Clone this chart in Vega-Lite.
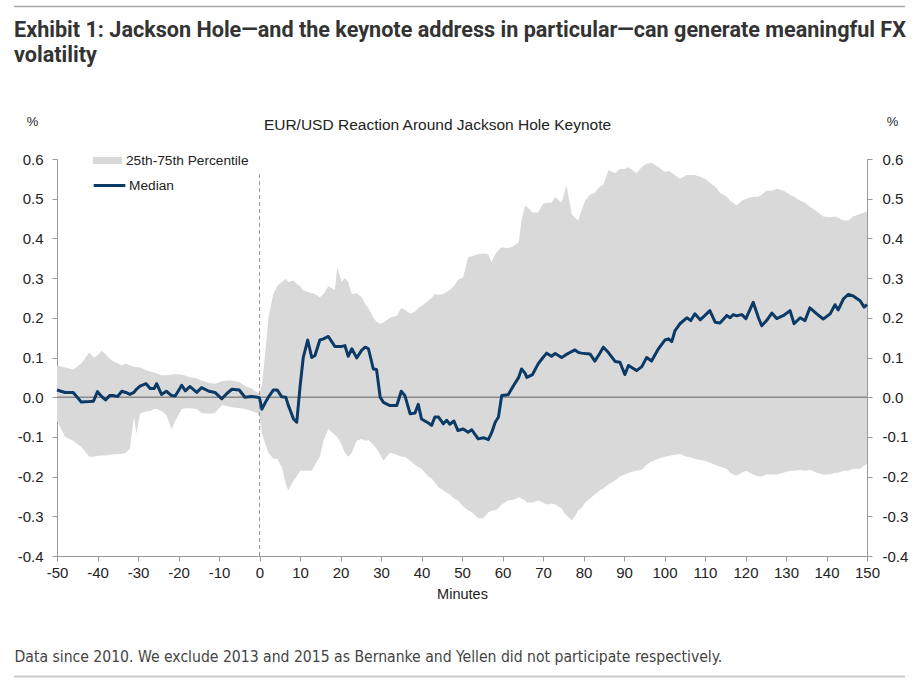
{
  "$schema": "https://vega.github.io/schema/vega-lite/v6.json",
  "width": 810,
  "height": 397,
  "autosize": "none",
  "padding": {"left": 57, "top": 159, "right": 52, "bottom": 125},
  "title": {
    "text": ["Exhibit 1: Jackson Hole—and the keynote address in particular—can generate meaningful FX", "volatility"],
    "anchor": "start",
    "frame": "group",
    "dx": -43,
    "offset": -61,
    "font": "Roboto",
    "fontSize": 21.6,
    "fontWeight": "bold",
    "color": "#333333",
    "lineHeight": 25
  },
  "data": {
    "values": [
      {"minute": -50, "lo": -0.06, "hi": 0.08, "median": 0.018},
      {"minute": -48, "lo": -0.1, "hi": 0.075, "median": 0.012},
      {"minute": -46, "lo": -0.11, "hi": 0.07, "median": 0.012},
      {"minute": -44, "lo": -0.125, "hi": 0.085, "median": -0.012},
      {"minute": -42, "lo": -0.15, "hi": 0.113, "median": -0.011},
      {"minute": -41, "lo": -0.15, "hi": 0.1, "median": -0.01},
      {"minute": -40, "lo": -0.148, "hi": 0.105, "median": 0.014},
      {"minute": -39, "lo": -0.147, "hi": 0.117, "median": 0.002},
      {"minute": -38, "lo": -0.147, "hi": 0.108, "median": -0.007},
      {"minute": -37, "lo": -0.145, "hi": 0.097, "median": 0.004},
      {"minute": -36, "lo": -0.144, "hi": 0.09, "median": 0.004},
      {"minute": -35, "lo": -0.143, "hi": 0.085, "median": 0.002},
      {"minute": -34, "lo": -0.143, "hi": 0.08, "median": 0.015},
      {"minute": -33, "lo": -0.14, "hi": 0.085, "median": 0.012},
      {"minute": -32, "lo": -0.13, "hi": 0.08, "median": 0.007},
      {"minute": -31, "lo": -0.05, "hi": 0.077, "median": 0.012},
      {"minute": -30.4, "lo": -0.092, "hi": 0.076, "median": 0.02},
      {"minute": -29.5, "lo": -0.042, "hi": 0.075, "median": 0.028},
      {"minute": -28, "lo": -0.036, "hi": 0.068, "median": 0.034},
      {"minute": -27, "lo": -0.035, "hi": 0.065, "median": 0.022},
      {"minute": -26, "lo": -0.03, "hi": 0.062, "median": 0.022},
      {"minute": -25.4, "lo": -0.03, "hi": 0.06, "median": 0.034},
      {"minute": -24.2, "lo": -0.035, "hi": 0.055, "median": 0.007},
      {"minute": -23, "lo": -0.045, "hi": 0.055, "median": 0.015},
      {"minute": -21.7, "lo": -0.08, "hi": 0.057, "median": 0.004},
      {"minute": -20.8, "lo": -0.06, "hi": 0.058, "median": 0.003},
      {"minute": -19.2, "lo": -0.03, "hi": 0.057, "median": 0.03},
      {"minute": -18.3, "lo": -0.028, "hi": 0.054, "median": 0.016},
      {"minute": -17.2, "lo": -0.028, "hi": 0.05, "median": 0.027},
      {"minute": -15.5, "lo": -0.03, "hi": 0.048, "median": 0.012},
      {"minute": -14.3, "lo": -0.04, "hi": 0.042, "median": 0.024},
      {"minute": -12.5, "lo": -0.042, "hi": 0.036, "median": 0.015},
      {"minute": -11, "lo": -0.04, "hi": 0.034, "median": 0.012},
      {"minute": -9.3, "lo": -0.02, "hi": 0.04, "median": -0.004},
      {"minute": -8, "lo": -0.022, "hi": 0.042, "median": 0.01},
      {"minute": -6.8, "lo": -0.025, "hi": 0.042, "median": 0.02},
      {"minute": -5, "lo": -0.028, "hi": 0.038, "median": 0.018},
      {"minute": -3.6, "lo": -0.03, "hi": 0.028, "median": 0.0},
      {"minute": -2, "lo": -0.035, "hi": 0.022, "median": 0.002},
      {"minute": -0.5, "lo": -0.04, "hi": 0.012, "median": 0.0},
      {"minute": 0, "lo": -0.05, "hi": 0.01, "median": -0.002},
      {"minute": 0.6, "lo": -0.09, "hi": 0.03, "median": -0.03},
      {"minute": 1.5, "lo": -0.12, "hi": 0.12, "median": -0.012},
      {"minute": 2.2, "lo": -0.14, "hi": 0.2, "median": 0.0},
      {"minute": 3.4, "lo": -0.155, "hi": 0.26, "median": 0.018},
      {"minute": 4.4, "lo": -0.155, "hi": 0.28, "median": 0.018},
      {"minute": 5.5, "lo": -0.176, "hi": 0.29, "median": 0.001},
      {"minute": 6.5, "lo": -0.22, "hi": 0.298, "median": 0.0},
      {"minute": 7.1, "lo": -0.235, "hi": 0.29, "median": -0.02},
      {"minute": 8.4, "lo": -0.21, "hi": 0.294, "median": -0.055},
      {"minute": 9.2, "lo": -0.2, "hi": 0.285, "median": -0.063},
      {"minute": 10.0, "lo": -0.185, "hi": 0.28, "median": 0.025},
      {"minute": 10.8, "lo": -0.185, "hi": 0.269, "median": 0.1},
      {"minute": 11.9, "lo": -0.185, "hi": 0.265, "median": 0.144},
      {"minute": 12.9, "lo": -0.185, "hi": 0.262, "median": 0.1},
      {"minute": 13.7, "lo": -0.17, "hi": 0.26, "median": 0.105},
      {"minute": 14.9, "lo": -0.15, "hi": 0.252, "median": 0.144},
      {"minute": 15.8, "lo": -0.11, "hi": 0.26, "median": 0.147},
      {"minute": 17.0, "lo": -0.08, "hi": 0.28, "median": 0.153},
      {"minute": 18.6, "lo": -0.095, "hi": 0.27, "median": 0.128},
      {"minute": 19.2, "lo": -0.1, "hi": 0.327, "median": 0.128},
      {"minute": 20.3, "lo": -0.12, "hi": 0.29, "median": 0.128},
      {"minute": 21.1, "lo": -0.14, "hi": 0.3, "median": 0.13},
      {"minute": 21.9, "lo": -0.15, "hi": 0.29, "median": 0.103},
      {"minute": 22.8, "lo": -0.14, "hi": 0.26, "median": 0.122},
      {"minute": 24.0, "lo": -0.11, "hi": 0.262, "median": 0.099},
      {"minute": 25.2, "lo": -0.105, "hi": 0.252, "median": 0.118},
      {"minute": 26.1, "lo": -0.11, "hi": 0.235, "median": 0.126},
      {"minute": 26.9, "lo": -0.108, "hi": 0.225, "median": 0.122},
      {"minute": 28.1, "lo": -0.12, "hi": 0.2, "median": 0.071},
      {"minute": 28.9, "lo": -0.13, "hi": 0.19, "median": 0.07},
      {"minute": 29.8, "lo": -0.145, "hi": 0.185, "median": 0.0},
      {"minute": 30.6, "lo": -0.16, "hi": 0.188, "median": -0.013},
      {"minute": 32.2, "lo": -0.14, "hi": 0.2, "median": -0.021},
      {"minute": 33.9, "lo": -0.145, "hi": 0.205, "median": -0.021},
      {"minute": 35.0, "lo": -0.15, "hi": 0.225, "median": 0.015},
      {"minute": 35.9, "lo": -0.15, "hi": 0.22, "median": 0.004},
      {"minute": 37.2, "lo": -0.16, "hi": 0.21, "median": -0.042},
      {"minute": 38.4, "lo": -0.17, "hi": 0.215, "median": -0.04},
      {"minute": 39.2, "lo": -0.176, "hi": 0.225, "median": -0.018},
      {"minute": 40.0, "lo": -0.18, "hi": 0.23, "median": -0.055},
      {"minute": 41.7, "lo": -0.2, "hi": 0.243, "median": -0.065},
      {"minute": 42.5, "lo": -0.205, "hi": 0.25, "median": -0.071},
      {"minute": 43.3, "lo": -0.215, "hi": 0.26, "median": -0.05},
      {"minute": 44.2, "lo": -0.227, "hi": 0.258, "median": -0.05},
      {"minute": 45.4, "lo": -0.235, "hi": 0.26, "median": -0.067},
      {"minute": 46.2, "lo": -0.24, "hi": 0.265, "median": -0.058},
      {"minute": 47.0, "lo": -0.245, "hi": 0.27, "median": -0.068},
      {"minute": 48.0, "lo": -0.255, "hi": 0.28, "median": -0.06},
      {"minute": 49.0, "lo": -0.26, "hi": 0.295, "median": -0.084},
      {"minute": 50.3, "lo": -0.275, "hi": 0.302, "median": -0.08},
      {"minute": 51.5, "lo": -0.285, "hi": 0.353, "median": -0.088},
      {"minute": 52.4, "lo": -0.29, "hi": 0.355, "median": -0.082},
      {"minute": 54.0, "lo": -0.305, "hi": 0.36, "median": -0.105},
      {"minute": 55.3, "lo": -0.305, "hi": 0.362, "median": -0.102},
      {"minute": 56.5, "lo": -0.29, "hi": 0.36, "median": -0.107},
      {"minute": 57.3, "lo": -0.286, "hi": 0.34, "median": -0.09},
      {"minute": 58.2, "lo": -0.285, "hi": 0.36, "median": -0.063},
      {"minute": 59.0, "lo": -0.28, "hi": 0.37, "median": -0.05},
      {"minute": 59.8, "lo": -0.27, "hi": 0.378, "median": 0.004},
      {"minute": 61.4, "lo": -0.26, "hi": 0.375, "median": 0.006},
      {"minute": 62.7, "lo": -0.258, "hi": 0.38, "median": 0.029},
      {"minute": 64.0, "lo": -0.252, "hi": 0.39, "median": 0.05},
      {"minute": 64.7, "lo": -0.255, "hi": 0.445, "median": 0.071},
      {"minute": 65.6, "lo": -0.26, "hi": 0.483, "median": 0.06},
      {"minute": 66.0, "lo": -0.265, "hi": 0.48, "median": 0.05},
      {"minute": 67.4, "lo": -0.265, "hi": 0.465, "median": 0.057},
      {"minute": 68.8, "lo": -0.26, "hi": 0.465, "median": 0.084},
      {"minute": 70.0, "lo": -0.265, "hi": 0.487, "median": 0.1},
      {"minute": 70.9, "lo": -0.27, "hi": 0.49, "median": 0.111},
      {"minute": 72.1, "lo": -0.268, "hi": 0.49, "median": 0.103},
      {"minute": 73.0, "lo": -0.27, "hi": 0.504, "median": 0.11},
      {"minute": 74.6, "lo": -0.28, "hi": 0.49, "median": 0.1},
      {"minute": 75.4, "lo": -0.294, "hi": 0.52, "median": 0.105},
      {"minute": 75.8, "lo": -0.298, "hi": 0.533, "median": 0.108},
      {"minute": 77.1, "lo": -0.31, "hi": 0.46, "median": 0.115},
      {"minute": 77.9, "lo": -0.3, "hi": 0.452, "median": 0.119},
      {"minute": 78.7, "lo": -0.285, "hi": 0.445, "median": 0.113},
      {"minute": 79.5, "lo": -0.28, "hi": 0.47, "median": 0.111},
      {"minute": 80.4, "lo": -0.265, "hi": 0.495, "median": 0.11},
      {"minute": 81.6, "lo": -0.255, "hi": 0.51, "median": 0.109},
      {"minute": 82.8, "lo": -0.245, "hi": 0.515, "median": 0.091},
      {"minute": 84.0, "lo": -0.235, "hi": 0.53, "median": 0.11},
      {"minute": 84.9, "lo": -0.23, "hi": 0.535, "median": 0.126},
      {"minute": 86.1, "lo": -0.22, "hi": 0.571, "median": 0.113},
      {"minute": 87.8, "lo": -0.21, "hi": 0.565, "median": 0.09},
      {"minute": 89.0, "lo": -0.2, "hi": 0.575, "median": 0.088},
      {"minute": 90.2, "lo": -0.195, "hi": 0.575, "median": 0.057},
      {"minute": 91.1, "lo": -0.19, "hi": 0.579, "median": 0.08},
      {"minute": 93.1, "lo": -0.185, "hi": 0.565, "median": 0.067},
      {"minute": 94.4, "lo": -0.183, "hi": 0.58, "median": 0.077},
      {"minute": 95.6, "lo": -0.17, "hi": 0.588, "median": 0.1},
      {"minute": 96.8, "lo": -0.162, "hi": 0.59, "median": 0.091},
      {"minute": 98.5, "lo": -0.155, "hi": 0.58, "median": 0.122},
      {"minute": 100.1, "lo": -0.15, "hi": 0.567, "median": 0.144},
      {"minute": 101.0, "lo": -0.148, "hi": 0.57, "median": 0.147},
      {"minute": 101.8, "lo": -0.146, "hi": 0.565, "median": 0.14},
      {"minute": 102.6, "lo": -0.145, "hi": 0.56, "median": 0.168},
      {"minute": 103.8, "lo": -0.143, "hi": 0.55, "median": 0.185},
      {"minute": 105.5, "lo": -0.15, "hi": 0.56, "median": 0.2},
      {"minute": 106.5, "lo": -0.152, "hi": 0.56, "median": 0.193},
      {"minute": 107.5, "lo": -0.155, "hi": 0.56, "median": 0.21},
      {"minute": 108.8, "lo": -0.158, "hi": 0.555, "median": 0.195},
      {"minute": 110.0, "lo": -0.16, "hi": 0.55, "median": 0.206},
      {"minute": 111.2, "lo": -0.165, "hi": 0.54, "median": 0.218},
      {"minute": 112.5, "lo": -0.17, "hi": 0.53, "median": 0.189},
      {"minute": 113.7, "lo": -0.175, "hi": 0.515, "median": 0.187},
      {"minute": 115.4, "lo": -0.18, "hi": 0.505, "median": 0.206},
      {"minute": 116.2, "lo": -0.19, "hi": 0.495, "median": 0.2},
      {"minute": 117.0, "lo": -0.195, "hi": 0.49, "median": 0.208},
      {"minute": 117.8, "lo": -0.197, "hi": 0.483, "median": 0.205},
      {"minute": 119.1, "lo": -0.19, "hi": 0.495, "median": 0.208},
      {"minute": 120.1, "lo": -0.185, "hi": 0.5, "median": 0.198},
      {"minute": 121.9, "lo": -0.195, "hi": 0.505, "median": 0.239},
      {"minute": 123.2, "lo": -0.2, "hi": 0.505, "median": 0.2},
      {"minute": 124.0, "lo": -0.2, "hi": 0.51, "median": 0.18},
      {"minute": 125.2, "lo": -0.195, "hi": 0.52, "median": 0.193},
      {"minute": 126.5, "lo": -0.195, "hi": 0.52, "median": 0.212},
      {"minute": 127.7, "lo": -0.195, "hi": 0.525, "median": 0.198},
      {"minute": 129.4, "lo": -0.19, "hi": 0.52, "median": 0.206},
      {"minute": 131.0, "lo": -0.185, "hi": 0.51, "median": 0.218},
      {"minute": 132.0, "lo": -0.185, "hi": 0.505, "median": 0.185},
      {"minute": 133.5, "lo": -0.183, "hi": 0.495, "median": 0.2},
      {"minute": 134.7, "lo": -0.185, "hi": 0.49, "median": 0.193},
      {"minute": 135.9, "lo": -0.183, "hi": 0.48, "median": 0.225},
      {"minute": 137.6, "lo": -0.19, "hi": 0.468, "median": 0.21},
      {"minute": 139.2, "lo": -0.195, "hi": 0.455, "median": 0.197},
      {"minute": 140.9, "lo": -0.195, "hi": 0.453, "median": 0.21},
      {"minute": 142.1, "lo": -0.19, "hi": 0.455, "median": 0.233},
      {"minute": 142.9, "lo": -0.19, "hi": 0.452, "median": 0.22},
      {"minute": 144.2, "lo": -0.185, "hi": 0.445, "median": 0.248},
      {"minute": 145.4, "lo": -0.185, "hi": 0.445, "median": 0.259},
      {"minute": 146.6, "lo": -0.18, "hi": 0.455, "median": 0.255},
      {"minute": 148.3, "lo": -0.18, "hi": 0.462, "median": 0.243},
      {"minute": 149.3, "lo": -0.172, "hi": 0.465, "median": 0.227},
      {"minute": 150.0, "lo": -0.168, "hi": 0.468, "median": 0.233}
    ]
  },
  "resolve": {"axis": {"x": "independent", "y": "independent"}},
  "layer": [
    {
      "mark": {"type": "area", "interpolate": "linear"},
      "encoding": {
        "x": {
          "field": "minute",
          "type": "quantitative",
          "scale": {"domain": [-50, 150], "nice": false, "zero": false},
          "axis": {
            "orient": "bottom",
            "values": [-50, -40, -30, -20, -10, 0, 10, 20, 30, 40, 50, 60, 70, 80, 90, 100, 110, 120, 130, 140, 150],
            "labelExpr": "replace(datum.label, '−', '-')",
            "labelFlush": false,
            "labelOverlap": false,
            "title": "Minutes",
            "titleY": 38,
            "titleBaseline": "middle",
            "titleFontSize": 14.5,
            "labelPadding": 4
          }
        },
        "y": {
          "field": "lo",
          "type": "quantitative",
          "scale": {"domain": [-0.4, 0.6], "nice": false, "zero": false},
          "axis": {
            "orient": "left",
            "values": [-0.4, -0.3, -0.2, -0.1, 0, 0.1, 0.2, 0.3, 0.4, 0.5, 0.6],
            "format": ".1f",
            "labelExpr": "replace(datum.label, '−', '-')",
            "labelFlush": false,
            "labelOverlap": false,
            "labelPadding": 9,
            "title": "%",
            "titleAngle": 0,
            "titleX": -25,
            "titleY": -38,
            "titleAlign": "center",
            "titleBaseline": "middle"
          }
        },
        "y2": {"field": "hi"},
        "fill": {
          "datum": "25th-75th Percentile",
          "scale": {"range": ["#d9d9d9"]},
          "legend": {
            "orient": "none",
            "legendX": 36,
            "legendY": -13,
            "title": null,
            "symbolType": "M-1,-0.25H1V0.25H-1Z",
            "symbolSize": 841,
            "symbolStrokeWidth": 0,
            "symbolOpacity": 1,
            "labelOffset": 4
          }
        }
      }
    },
    {
      "data": {"values": [{}]},
      "mark": {"type": "rule", "color": "#8a8a8a", "strokeWidth": 1.5},
      "encoding": {
        "y": {"datum": 0, "type": "quantitative", "scale": {"domain": [-0.4, 0.6], "nice": false, "zero": false}, "axis": null}
      }
    },
    {
      "data": {"values": [{}]},
      "mark": {"type": "rule", "color": "#9a9a9a", "strokeWidth": 1, "strokeDash": [4, 3]},
      "encoding": {
        "x": {
          "datum": 0,
          "type": "quantitative",
          "scale": {"domain": [-50, 150], "nice": false, "zero": false},
          "axis": {
            "orient": "bottom",
            "labels": false,
            "ticks": false,
            "domain": false,
            "grid": false,
            "title": "Data since 2010. We exclude 2013 and 2015 as Bernanke and Yellen did not participate respectively.",
            "titleX": -43,
            "titleY": 100,
            "titleAlign": "left",
            "titleBaseline": "middle",
            "titleFont": "Liberation Sans Narrow, DejaVu Sans Condensed, Roboto",
            "titleFontSize": 15.6,
            "titleFontWeight": "normal",
            "titleColor": "#444444"
          }
        },
        "y": {"datum": -0.4, "type": "quantitative", "scale": {"domain": [-0.4, 0.6], "nice": false, "zero": false}, "axis": null},
        "y2": {"datum": 0.567}
      }
    },
    {
      "mark": {"type": "line", "strokeWidth": 3, "strokeJoin": "round", "interpolate": "linear"},
      "encoding": {
        "x": {
          "field": "minute",
          "type": "quantitative",
          "scale": {"domain": [-50, 150], "nice": false, "zero": false},
          "axis": {
            "orient": "top",
            "labels": false,
            "ticks": false,
            "domain": false,
            "grid": false,
            "title": "EUR/USD Reaction Around Jackson Hole Keynote",
            "titleX": 380,
            "titleY": -35,
            "titleAlign": "center",
            "titleBaseline": "middle",
            "titleFontSize": 15.5
          }
        },
        "y": {
          "field": "median",
          "type": "quantitative",
          "scale": {"domain": [-0.4, 0.6], "nice": false, "zero": false},
          "axis": {
            "orient": "right",
            "values": [-0.4, -0.3, -0.2, -0.1, 0, 0.1, 0.2, 0.3, 0.4, 0.5, 0.6],
            "format": ".1f",
            "labelExpr": "replace(datum.label, '−', '-')",
            "labelFlush": false,
            "labelOverlap": false,
            "labelPadding": 10,
            "title": "%",
            "titleAngle": 0,
            "titleX": 25,
            "titleY": -38,
            "titleAlign": "center",
            "titleBaseline": "middle"
          }
        },
        "stroke": {
          "datum": "Median",
          "scale": {"range": ["#0b3a66"]},
          "legend": {
            "orient": "none",
            "legendX": 35,
            "legendY": 9,
            "title": null,
            "symbolType": "stroke",
            "symbolSize": 1000,
            "symbolStrokeWidth": 3,
            "labelOffset": 2
          }
        }
      }
    },
    {
      "data": {"values": [{}]},
      "mark": {"type": "rule", "color": "#a6a6a6", "strokeWidth": 1.5},
      "encoding": {
        "x": {"datum": -60.62, "type": "quantitative", "scale": {"domain": [-50, 150], "nice": false, "zero": false}, "axis": null},
        "x2": {"datum": 159.38},
        "y": {"datum": 0.984, "type": "quantitative", "scale": {"domain": [-0.4, 0.6], "nice": false, "zero": false}, "axis": null}
      }
    },
    {
      "data": {"values": [{}]},
      "mark": {"type": "rule", "color": "#cccccc", "strokeWidth": 2},
      "encoding": {
        "x": {"datum": -60.62, "type": "quantitative", "scale": {"domain": [-50, 150], "nice": false, "zero": false}, "axis": null},
        "x2": {"datum": 159.38},
        "y": {"datum": -0.7035, "type": "quantitative", "scale": {"domain": [-0.4, 0.6], "nice": false, "zero": false}, "axis": null}
      }
    }
  ],
  "config": {
    "view": {"stroke": null},
    "font": "Liberation Sans",
    "axis": {
      "grid": false,
      "domainColor": "#9a9a9a",
      "tickColor": "#9a9a9a",
      "tickSize": 5,
      "labelFont": "Liberation Sans",
      "labelFontSize": 15,
      "labelColor": "#222222",
      "titleFont": "Liberation Sans",
      "titleFontSize": 13,
      "titleFontWeight": "normal",
      "titleColor": "#222222"
    },
    "legend": {
      "labelFont": "Liberation Sans",
      "labelFontSize": 13.7,
      "labelColor": "#222222",
      "padding": 0
    }
  }
}
